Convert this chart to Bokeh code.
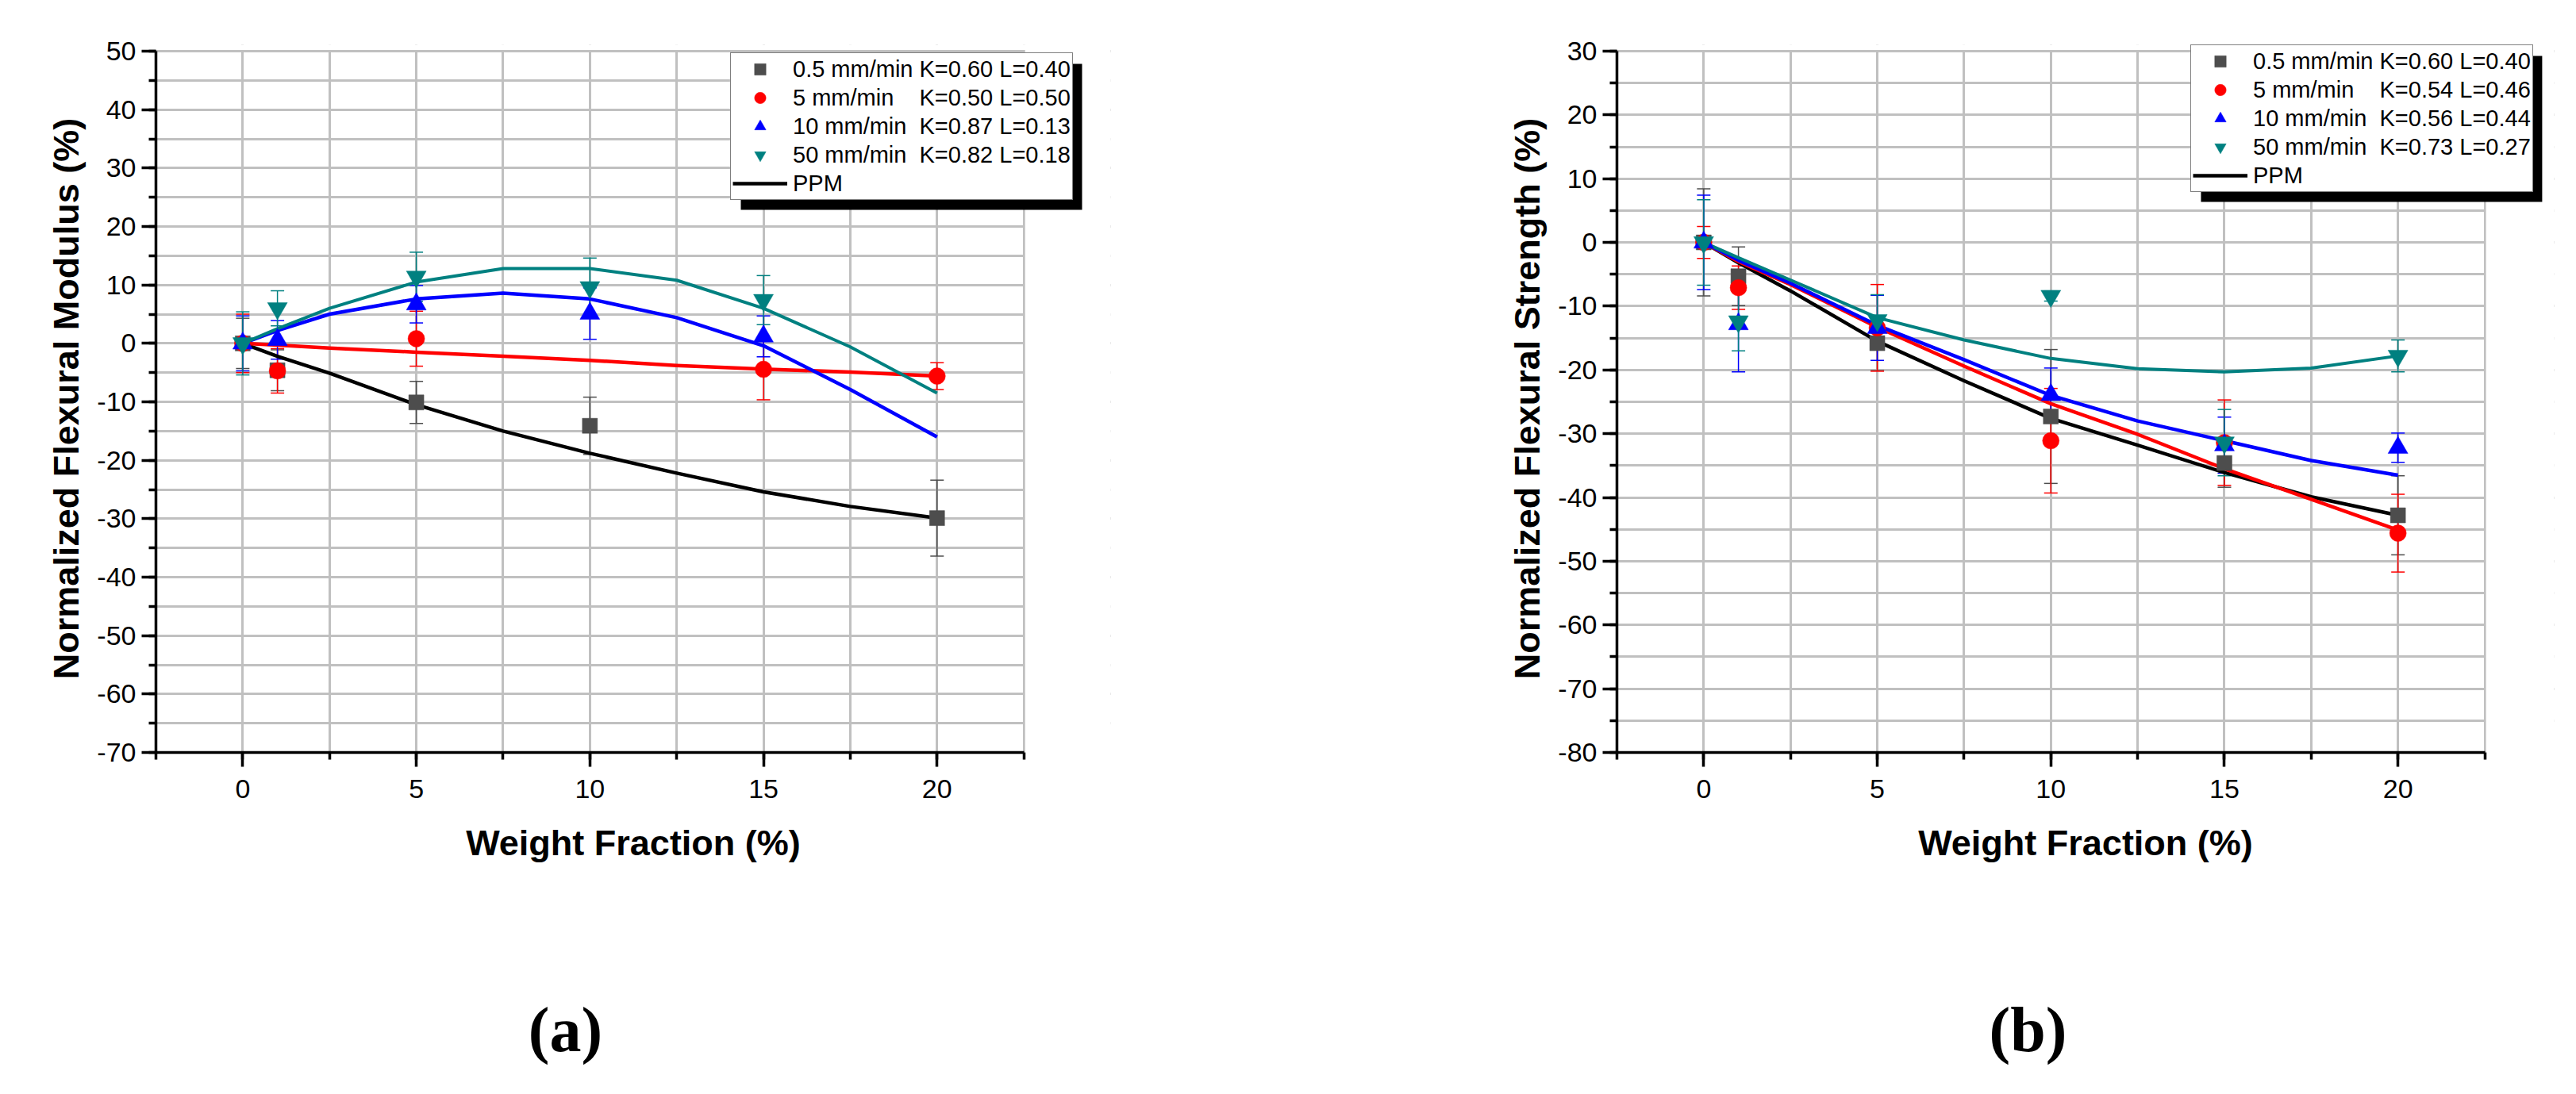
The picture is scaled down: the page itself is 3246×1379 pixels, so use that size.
from bokeh.plotting import figure
from bokeh.layouts import row, column
from bokeh.models import (FixedTicker, Legend, LegendItem, Whisker, TeeHead,
                          ColumnDataSource, Label, BoxAnnotation,
                          PrintfTickFormatter)
from bokeh.embed import file_html
from bokeh.resources import INLINE

# ------------------------------------------------------------------ data
X_MAJOR = [0, 5, 10, 15, 20]
X_MINOR = [-2.5, 0, 2.5, 5, 7.5, 10, 12.5, 15, 17.5, 20, 22.5]
FIT_X = [0, 1, 2.5, 5, 7.5, 10, 12.5, 15, 17.5, 20]
SERIES = ["0.5 mm/min", "5 mm/min", "10 mm/min", "50 mm/min"]

# panel (a): normalized flexural modulus
a_x_05 = [0, 1, 5, 10, 20]
a_y_05 = [0, -4.6, -10.1, -14.1, -29.9]
a_e_05 = [4.3, 3.5, 3.6, 4.9, 6.5]
a_x_5 = [0, 1, 5, 15, 20]
a_y_5 = [0, -4.7, 0.8, -4.45, -5.6]
a_e_5 = [5.0, 3.8, 4.7, 5.2, 2.3]
a_x_10 = [0, 1, 5, 10, 15]
a_y_10 = [0, 0.6, 6.7, 5.1, 1.2]
a_e_10 = [4.7, 3.3, 3.2, 4.4, 3.5]
a_x_50 = [0, 1, 5, 10, 15]
a_y_50 = [0, 6.0, 11.4, 9.6, 7.4]
a_e_50 = [5.4, 3.0, 4.2, 5.0, 4.2]
a_fit_05 = [0, -2.2, -5.1, -10.5, -15.0, -18.8, -22.2, -25.4, -27.9, -29.9]
a_fit_5 = [0, -0.3, -0.8, -1.5, -2.2, -2.9, -3.8, -4.4, -4.9, -5.6]
a_fit_10 = [0, 2.2, 5.0, 7.6, 8.6, 7.6, 4.4, -0.4, -7.9, -16.0]
a_fit_50 = [0, 2.5, 6.0, 10.5, 12.8, 12.8, 10.8, 6.0, -0.6, -8.5]
a_K = ["0.60", "0.50", "0.87", "0.82"]
a_L = ["0.40", "0.50", "0.13", "0.18"]

# panel (b): normalized flexural strength
b_x = [0, 1, 5, 10, 15, 20]
b_y_05 = [0, -5.3, -15.8, -27.3, -34.6, -42.8]
b_e_05 = [8.4, 4.6, 4.3, 10.5, 3.8, 6.2]
b_y_5 = [0, -7.1, -13.4, -31.1, -31.4, -45.6]
b_e_5 = [2.5, 3.4, 6.8, 8.2, 6.7, 6.1]
b_y_10 = [0, -12.8, -13.4, -23.9, -31.8, -32.2]
b_e_10 = [7.4, 7.5, 5.1, 4.2, 4.4, 2.3]
b_y_50 = [0, -12.4, -12.2, -8.4, -31.4, -17.8]
b_e_50 = [6.7, 4.6, 4.0, 0.8, 5.2, 2.5]
b_fit_05 = [0, -3.2, -7.6, -15.5, -21.7, -27.6, -31.8, -36.1, -39.9, -42.8]
b_fit_5 = [0, -3.0, -6.6, -13.3, -19.4, -25.3, -30.1, -35.5, -40.3, -45.1]
b_fit_10 = [0, -2.8, -6.4, -13.0, -18.4, -24.0, -28.0, -31.1, -34.2, -36.5]
b_fit_50 = [0, -2.4, -5.9, -11.8, -15.3, -18.2, -19.8, -20.3, -19.7, -17.8]
b_K = ["0.60", "0.54", "0.56", "0.73"]
b_L = ["0.40", "0.46", "0.44", "0.27"]

# ------------------------------------------------------------------ style
COLORS = ["#4d4d4d", "#ff0000", "#0000ff", "#008080"]
FIT_COLORS = ["#000000", "#ff0000", "#0000ff", "#008080"]
FIT_WIDTHS = [4.5, 4.5, 4.5, 4]
MARKERS = ["square", "circle", "triangle", "inverted_triangle"]
SIZES = [19, 21, 25, 25]
PADS = ["", "\u00a0\u00a0\u00a0", "\u00a0", "\u00a0"]
FONT = "Liberation Sans"
PX_PER_X = 43.745          # pixels per x unit
DATA_H = 884               # pixels of the y data span
TOP_EXTRA = 8              # frame room above the top tick (legend)
BOTTOM_BORDER = 175
LEG_W, LEG_H = 430, 184    # legend box size in pixels
SHADOW_DX, SHADOW_DY = 13, 12


def make_panel(points, fits, K, L, ylo, yhi, ytitle, mbl, mbr, x_end,
               leg_x, leg_y):
    ppu = DATA_H / (yhi - ylo)
    fw = int(round((x_end + 2.5) * PX_PER_X))
    p = figure(frame_width=fw, frame_height=DATA_H + TOP_EXTRA,
               x_range=(-2.5, x_end), y_range=(ylo, yhi + TOP_EXTRA / ppu),
               output_backend="svg", toolbar_location=None,
               min_border_left=mbl, min_border_right=mbr,
               min_border_top=56, min_border_bottom=BOTTOM_BORDER,
               outline_line_color=None,
               background_fill_color="white", border_fill_color="white")

    xt = FixedTicker(ticks=X_MAJOR, minor_ticks=X_MINOR)
    yt = FixedTicker(ticks=list(range(ylo, yhi + 1, 10)),
                     minor_ticks=list(range(ylo, yhi + 1, 5)))
    p.xaxis.ticker = xt
    p.yaxis.ticker = yt
    p.xaxis.bounds = (-2.5, 22.5)
    p.yaxis.bounds = (ylo, yhi)
    p.xaxis.formatter = PrintfTickFormatter(format="%d")
    p.yaxis.formatter = PrintfTickFormatter(format="%d")
    p.xgrid.ticker = xt
    p.ygrid.ticker = yt
    for g in (p.xgrid[0], p.ygrid[0]):
        g.grid_line_color = "#c0c0c0"
        g.grid_line_width = 3
        g.minor_grid_line_color = "#c0c0c0"
        g.minor_grid_line_width = 3

    # hide grid beyond the data area (room kept for the legend)
    p.add_layout(BoxAnnotation(left=22.5 + 1.6 / PX_PER_X, fill_color="white",
                               fill_alpha=1, line_alpha=0, level="underlay"))
    p.add_layout(BoxAnnotation(bottom=yhi + 1.6 / ppu, fill_color="white",
                               fill_alpha=1, line_alpha=0, level="underlay"))

    for ax in (p.xaxis[0], p.yaxis[0]):
        ax.axis_line_color = "black"
        ax.axis_line_width = 3.5
        ax.major_tick_line_width = 3.5
        ax.minor_tick_line_width = 3.5
        ax.major_tick_out = 18
        ax.major_tick_in = 0
        ax.minor_tick_out = 9
        ax.minor_tick_in = 0
        ax.major_label_text_font = FONT
        ax.major_label_text_font_size = "34px"
        ax.major_label_text_color = "black"
        ax.axis_label_text_font = FONT
        ax.axis_label_text_font_style = "bold"
        ax.axis_label_text_font_size = "45px"
        ax.axis_label_text_color = "black"
    p.xaxis.axis_label = "Weight Fraction (%)"
    p.yaxis.axis_label = ytitle
    p.xaxis.major_label_standoff = 16
    p.xaxis.axis_label_standoff = 28
    p.yaxis.major_label_standoff = 7
    p.yaxis.axis_label_standoff = 10

    # error bars
    for (xs, ys, es), c in zip(points, COLORS):
        src = ColumnDataSource(dict(
            x=xs, up=[y + e for y, e in zip(ys, es)],
            lo=[y - e for y, e in zip(ys, es)]))
        w = Whisker(base="x", upper="up", lower="lo", source=src,
                    line_color=c, line_width=1.5,
                    upper_head=TeeHead(size=17, line_color=c, line_width=1.5),
                    lower_head=TeeHead(size=17, line_color=c, line_width=1.5))
        p.add_layout(w)

    # fitted curves
    fit_r = []
    for fy, c, lw in zip(fits, FIT_COLORS, FIT_WIDTHS):
        fit_r.append(p.line(FIT_X, fy, line_color=c, line_width=lw,
                            line_join="round"))

    # markers
    mk_r = []
    for (xs, ys, es), c, m, s in zip(points, COLORS, MARKERS, SIZES):
        mk_r.append(p.scatter(xs, ys, marker=m, size=s, fill_color=c,
                              line_color=c, line_width=0.5))

    labels = [f"{n}{pad} K={k} L={l}" for n, pad, k, l in zip(SERIES, PADS, K, L)]
    labels.append("PPM")

    # drop shadow of the legend box (pixel offsets converted to data units)
    sx0 = leg_x + SHADOW_DX
    sy0 = leg_y - SHADOW_DY
    p.add_layout(BoxAnnotation(
        left=-2.5 + sx0 / PX_PER_X, right=-2.5 + (sx0 + LEG_W) / PX_PER_X,
        bottom=ylo + sy0 / ppu, top=ylo + (sy0 + LEG_H) / ppu,
        fill_color="black", fill_alpha=1, line_alpha=0, level="annotation"))

    items = [LegendItem(label=t, renderers=[r])
             for t, r in zip(labels, mk_r + [fit_r[0]])]
    leg = Legend(items=items, location=(leg_x, leg_y))
    leg.label_text_font = FONT
    leg.label_text_font_size = "29px"
    leg.label_text_color = "black"
    leg.glyph_width = 69
    leg.glyph_height = 36
    leg.label_height = 36
    leg.label_standoff = 7
    leg.spacing = 0
    leg.padding = 2
    leg.margin = 0
    leg.border_line_color = "black"
    leg.border_line_width = 1.5
    leg.background_fill_color = "white"
    leg.background_fill_alpha = 1.0
    p.add_layout(leg)
    return p


def tag_panel(width, tag, cx):
    f = figure(width=width, height=240, output_backend="svg",
               toolbar_location=None, x_axis_location=None,
               y_axis_location=None, min_border=0, outline_line_color=None,
               background_fill_color="white", border_fill_color="white")
    f.grid.visible = False
    f.add_layout(Label(x=cx, y=66, x_units="screen", y_units="screen",
                       text=tag, text_font="Liberation Serif",
                       text_font_size="80px", text_font_style="bold",
                       text_align="center", text_baseline="alphabetic",
                       text_color="black"))
    return f


pa = make_panel(
    [(a_x_05, a_y_05, a_e_05), (a_x_5, a_y_5, a_e_5),
     (a_x_10, a_y_10, a_e_10), (a_x_50, a_y_50, a_e_50)],
    [a_fit_05, a_fit_5, a_fit_10, a_fit_50], a_K, a_L,
    -70, 50, "Normalized Flexural Modulus (%)",
    196, 10, 25.0, 724, 696)

pb = make_panel(
    [(b_x, b_y_05, b_e_05), (b_x, b_y_5, b_e_5),
     (b_x, b_y_10, b_e_10), (b_x, b_y_50, b_e_50)],
    [b_fit_05, b_fit_5, b_fit_10, b_fit_50], b_K, b_L,
    -80, 30, "Normalized Flexural Strength (%)",
    628, 4, 24.5, 723, 706)

wa = 196 + int(round(27.5 * PX_PER_X)) + 10
wb = 628 + int(round(27.0 * PX_PER_X)) + 4
ta = tag_panel(wa, "(a)", 712)
tb = tag_panel(wb, "(b)", 2563 - 8 - wa)

layout = column(row(pa, pb), row(ta, tb))
open("out.html", "w").write(file_html(layout, INLINE))
